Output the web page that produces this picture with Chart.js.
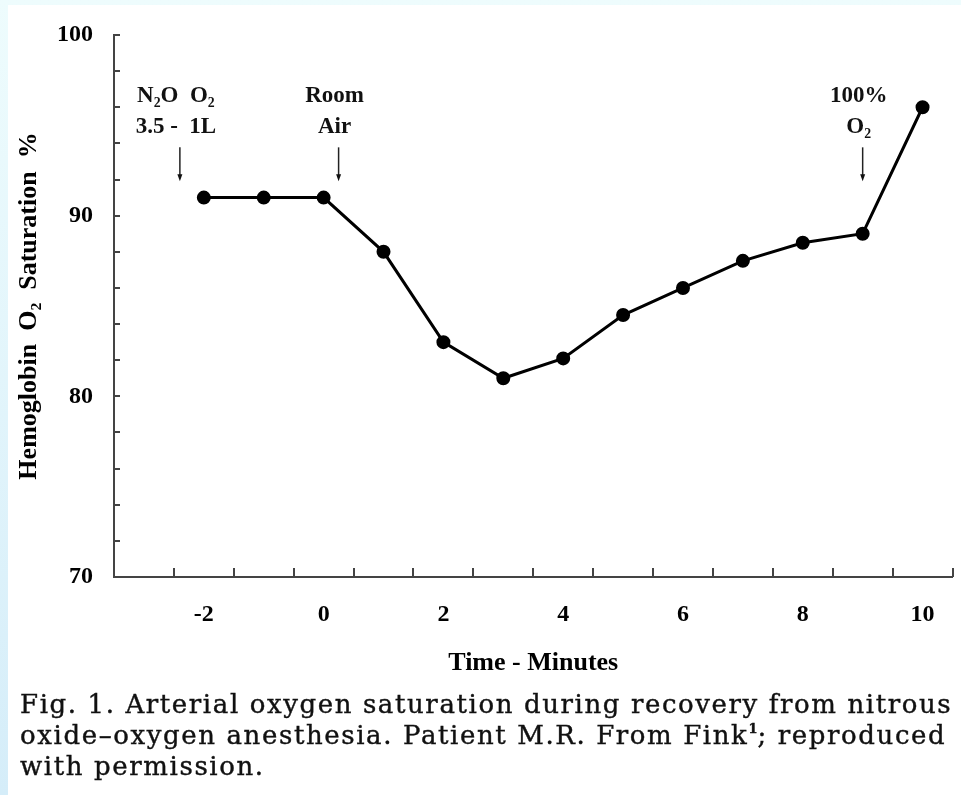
<!DOCTYPE html>
<html>
<head>
<meta charset="utf-8">
<script src="https://cdn.jsdelivr.net/npm/chart.js@4.4.1/dist/chart.umd.min.js"></script>
<style>
html, body { margin: 0; padding: 0; }
body { width: 961px; height: 795px; position: relative; overflow: hidden; background: linear-gradient(#eefcfd, #d5edf9); }
#panel { position: absolute; left: 8px; top: 5px; width: 953px; height: 790px; background: #fff; }
#wrap { position: absolute; left: 0; top: 0; width: 953px; height: 690px; }
#caption { position: absolute; left: 12px; top: 684px; font-family: 'DejaVu Serif', serif; font-size: 26px; letter-spacing: 1.6px; line-height: 31px; color: #111; white-space: nowrap; -webkit-text-stroke: 0.4px #111; }
#caption sup { font-size: 13px; font-weight: bold; vertical-align: baseline; position: relative; top: -11px; line-height: 0; letter-spacing: 0; }
</style>
</head>
<body>
<div id="panel">
  <div id="wrap"><canvas id="grafica" width="953" height="690"></canvas></div>
  <div id="caption">Fig. 1. Arterial oxygen saturation during recovery from nitrous<br>oxide&ndash;oxygen anesthesia. Patient M.R. From Fink<sup>1</sup>; reproduced<br>with permission.</div>
</div>
<script>
// datos
var minutos = [-2, -1, 0, 1, 2, 3, 4, 5, 6, 7, 8, 9, 10];
var saturacion = [91, 91, 91, 88, 83, 81, 82.1, 84.5, 86, 87.5, 88.5, 89, 96];

// notas con flecha (posicion en minutos, punta de la flecha en %)
var notasTexto = [['N\u2082O  O\u2082', '3.5 -  1L'], ['Room', 'Air'], ['100%', 'O\u2082']];
var notasMinuto = [-2.4, 0.25, 9];
var notasPunta = [91.9, 91.9, 91.9];

var fuente = 'Liberation Serif';

var puntos = [];
for (var i = 0; i < minutos.length; i++) {
  puntos.push({ x: minutos[i], y: saturacion[i] });
}

// marcas de las escalas hacia adentro y las notas con flecha
var marcas = {
  id: 'marcas',
  afterDraw: function (chart) {
    var ctx = chart.ctx;
    var xs = chart.scales.x;
    var ys = chart.scales.y;
    ctx.save();
    ctx.strokeStyle = '#444';
    ctx.lineWidth = 2;
    xs.ticks.forEach(function (t) {
      if (Math.abs(t.value - Math.floor(t.value) - 0.5) < 1e-6) {
        var px = Math.round(xs.getPixelForValue(t.value));
        ctx.beginPath();
        ctx.moveTo(px, ys.bottom);
        ctx.lineTo(px, ys.bottom - 9);
        ctx.stroke();
      }
    });
    ys.ticks.forEach(function (t) {
      var py = Math.round(ys.getPixelForValue(t.value));
      ctx.beginPath();
      ctx.moveTo(xs.left, py);
      ctx.lineTo(xs.left + 6, py);
      ctx.stroke();
    });

    ctx.fillStyle = '#111';
    ctx.strokeStyle = '#222';
    ctx.lineWidth = 1.5;
    ctx.font = 'bold 23px "' + fuente + '"';
    ctx.textAlign = 'center';
    ctx.textBaseline = 'middle';
    for (var k = 0; k < notasTexto.length; k++) {
      var ax = xs.getPixelForValue(notasMinuto[k]);
      var ay = ys.getPixelForValue(notasPunta[k]);
      ctx.beginPath();
      ctx.moveTo(ax, ay - 34);
      ctx.lineTo(ax, ay - 5);
      ctx.stroke();
      ctx.beginPath();
      ctx.moveTo(ax - 2.5, ay - 7);
      ctx.lineTo(ax + 2.5, ay - 7);
      ctx.lineTo(ax, ay);
      ctx.closePath();
      ctx.fill();
      ctx.fillText(notasTexto[k][0], ax - 4, ay - 85);
      ctx.fillText(notasTexto[k][1], ax - 4, ay - 54);
    }
    ctx.restore();
  }
};

var ctx = document.getElementById('grafica').getContext('2d');
var grafica = new Chart(ctx, {
  type: 'line',
  data: {
    datasets: [{
      data: puntos,
      borderColor: '#000',
      borderWidth: 3,
      backgroundColor: '#000',
      pointBackgroundColor: '#000',
      pointBorderColor: '#000',
      pointRadius: 5.5,
      tension: 0,
      fill: false
    }]
  },
  options: {
    responsive: false,
    animation: false,
    devicePixelRatio: 1,
    layout: { padding: { top: 30, right: 5, left: 0, bottom: 0 } },
    plugins: { legend: { display: false }, tooltip: { enabled: false } },
    scales: {
      x: {
        type: 'linear',
        min: -3.5,
        max: 10.5,
        afterBuildTicks: function (s) {
          var t = [];
          for (var v = -3.5; v <= 10.5; v += 0.5) t.push({ value: v });
          s.ticks = t;
        },
        afterFit: function (s) {
          s.height = 118;
          s.paddingLeft = 0;
          s.paddingRight = 0;
        },
        grid: { display: false, drawTicks: false },
        border: { display: true, color: '#444', width: 2 },
        ticks: {
          autoSkip: false,
          maxRotation: 0,
          padding: 23,
          color: '#000',
          font: { family: fuente, weight: 'bold', size: 24 },
          callback: function (v) { return (v % 2 === 0) ? String(v) : ''; }
        },
        title: {
          display: true,
          text: 'Time - Minutes',
          color: '#000',
          font: { family: fuente, weight: 'bold', size: 26 },
          padding: { top: 0, bottom: 16 }
        }
      },
      y: {
        min: 70,
        max: 100,
        afterBuildTicks: function (s) {
          var t = [];
          for (var v = 70; v <= 100; v += 2) t.push({ value: v });
          s.ticks = t;
        },
        afterFit: function (s) {
          s.width = 106;
          s.paddingTop = 0;
          s.paddingBottom = 0;
        },
        grid: { display: false, drawTicks: false },
        border: { display: true, color: '#444', width: 2 },
        ticks: {
          autoSkip: false,
          padding: 21,
          color: '#000',
          font: { family: fuente, weight: 'bold', size: 24 },
          callback: function (v) { return (v % 10 === 0) ? String(v) : ''; }
        },
        title: {
          display: true,
          text: 'Hemoglobin  O\u2082  Saturation  %',
          color: '#000',
          font: { family: fuente, weight: 'bold', size: 26 },
          padding: { top: 6, bottom: 0 }
        }
      }
    }
  },
  plugins: [marcas]
});
</script>
</body>
</html>
